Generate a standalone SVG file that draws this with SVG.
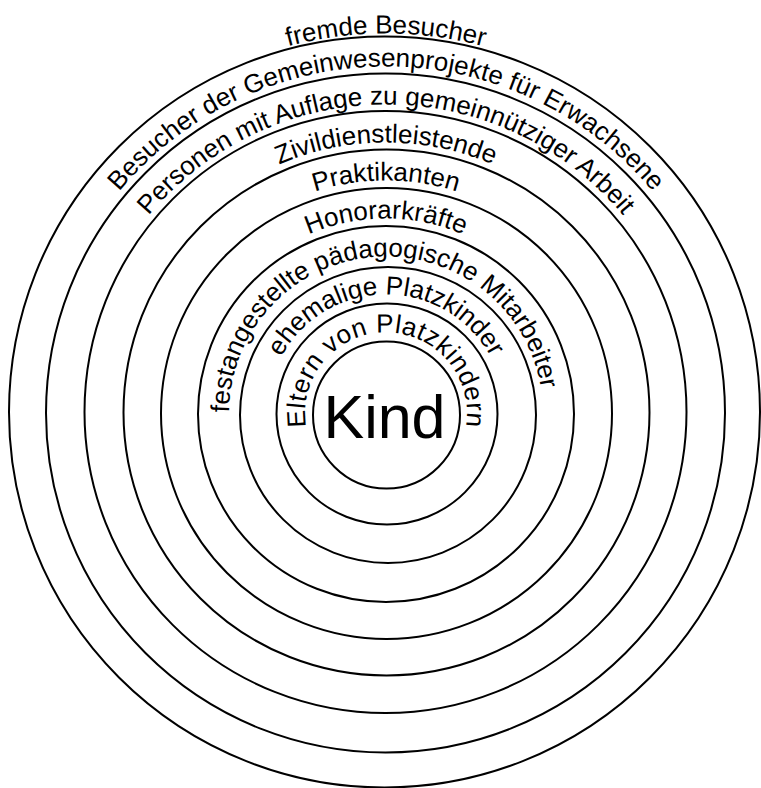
<svg xmlns="http://www.w3.org/2000/svg" xmlns:xlink="http://www.w3.org/1999/xlink" width="761" height="788" viewBox="0 0 761 788">
<style>
.ring{fill:none;stroke:#000;stroke-width:2}
.lbl{font-family:"Liberation Sans",Arial,sans-serif;font-size:26px;fill:#000}
.kind{font-family:"Liberation Sans",Arial,sans-serif;font-size:61px;fill:#000}
</style>
<defs>
<path id="p1" d="M386,494.5 A81,81 0 1 1 386,332.5 A81,81 0 1 1 386,494.5"/>
<path id="p2" d="M386,532.5 A119,119 0 1 1 386,294.5 A119,119 0 1 1 386,532.5"/>
<path id="p3" d="M386,570.5 A157,157 0 1 1 386,256.5 A157,157 0 1 1 386,570.5"/>
<path id="p4" d="M386,608.5 A195,195 0 1 1 386,218.5 A195,195 0 1 1 386,608.5"/>
<path id="p5" d="M386,646.5 A233,233 0 1 1 386,180.5 A233,233 0 1 1 386,646.5"/>
<path id="p6" d="M386,684.5 A271,271 0 1 1 386,142.5 A271,271 0 1 1 386,684.5"/>
<path id="p7" d="M386,722.5 A309,309 0 1 1 386,104.5 A309,309 0 1 1 386,722.5"/>
<path id="p8" d="M386,760.5 A347,347 0 1 1 386,66.5 A347,347 0 1 1 386,760.5"/>
<path id="p9" d="M386,793.5 A380,380 0 1 1 386,33.5 A380,380 0 1 1 386,793.5"/>
</defs>
<g id="rings">
<circle class="ring" cx="386.5" cy="415" r="73.5"/>
<circle class="ring" cx="387" cy="414" r="110.5"/>
<circle class="ring" cx="388" cy="415" r="148"/>
<circle class="ring" cx="386" cy="414" r="188"/>
<circle class="ring" cx="386.5" cy="413.5" r="225.5"/>
<circle class="ring" cx="386.5" cy="412.5" r="263"/>
<circle class="ring" cx="385.5" cy="412" r="301"/>
<circle class="ring" cx="385.5" cy="413" r="339.5"/>
<circle class="ring" cx="384.5" cy="412" r="375.5"/>
</g>
<g id="kind"><text class="kind" x="384.5" y="437.5" text-anchor="middle">Kind</text></g>
<g id="eltern"><text class="lbl" letter-spacing="0.6"><textPath xlink:href="#p1" href="#p1" startOffset="50%" text-anchor="middle">Eltern von Platzkindern</textPath></text></g>
<g id="ehemalige"><text class="lbl"><textPath xlink:href="#p2" href="#p2" startOffset="50%" text-anchor="middle">ehemalige Platzkinder</textPath></text></g>
<g id="festangestellte"><text class="lbl"><textPath xlink:href="#p3" href="#p3" startOffset="48.8%" text-anchor="middle">festangestellte pädagogische Mitarbeiter</textPath></text></g>
<g id="honorar"><text class="lbl"><textPath xlink:href="#p4" href="#p4" startOffset="50%" text-anchor="middle">Honorarkräfte</textPath></text></g>
<g id="praktikanten"><text class="lbl"><textPath xlink:href="#p5" href="#p5" startOffset="50%" text-anchor="middle">Praktikanten</textPath></text></g>
<g id="zivil"><text class="lbl"><textPath xlink:href="#p6" href="#p6" startOffset="50%" text-anchor="middle">Zivildienstleistende</textPath></text></g>
<g id="personen"><text class="lbl"><textPath xlink:href="#p7" href="#p7" startOffset="50%" text-anchor="middle">Personen mit Auflage zu gemeinnütziger Arbeit</textPath></text></g>
<g id="besucher"><text class="lbl"><textPath xlink:href="#p8" href="#p8" startOffset="50%" text-anchor="middle">Besucher der Gemeinwesenprojekte für Erwachsene</textPath></text></g>
<g id="fremde"><text class="lbl"><textPath xlink:href="#p9" href="#p9" startOffset="50%" text-anchor="middle">fremde Besucher</textPath></text></g>
</svg>
